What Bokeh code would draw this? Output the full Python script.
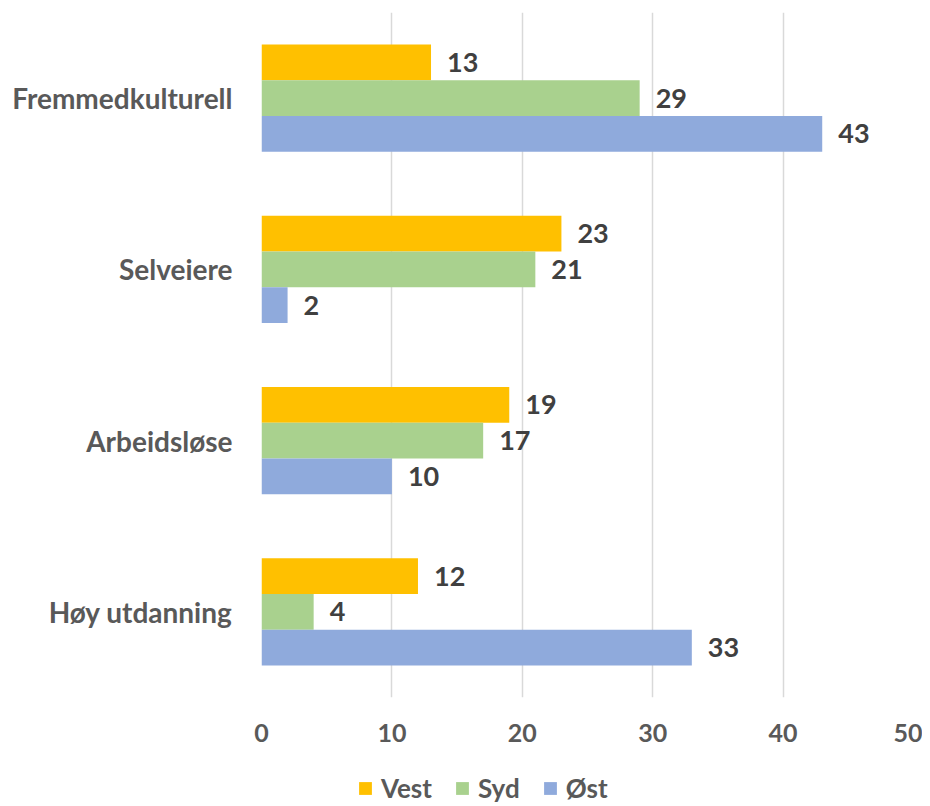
from bokeh.plotting import figure
from bokeh.layouts import column
from bokeh.models import ColumnDataSource, FactorRange, Range1d, LabelSet, Legend, LegendItem, FixedTicker
from bokeh.transform import dodge
from bokeh.core.properties import value
from bokeh.embed import file_html
from bokeh.resources import INLINE

# Data (bottom-to-top order for the categorical axis)
categories = ["Høy utdanning", "Arbeidsløse", "Selveiere", "Fremmedkulturell"]
vest = [12, 19, 23, 13]
syd = [4, 17, 21, 29]
ost = [33, 10, 2, 43]
series_names = ["Vest", "Syd", "Øst"]
colors = ["#FFC000", "#A9D18E", "#8FAADC"]
x_ticks = [0, 10, 20, 30, 40, 50]

FONT = "Lato"
bar_h = 0.2085

src = ColumnDataSource(data=dict(
    cat=categories,
    vest=vest, syd=syd, ost=ost,
    vest_lbl=[str(v) for v in vest],
    syd_lbl=[str(v) for v in syd],
    ost_lbl=[str(v) for v in ost],
))

p = figure(
    width=922, height=760,
    y_range=FactorRange(*categories, range_padding=0),
    x_range=Range1d(0, 50),
    output_backend="svg", toolbar_location=None,
    min_border_left=261, min_border_right=9, min_border_top=12, min_border_bottom=63,
)

fields = ["vest", "syd", "ost"]
offsets = [bar_h, 0.0, -bar_h]
for f, off, col in zip(fields, offsets, colors):
    p.hbar(y=dodge("cat", off, range=p.y_range), right=f, left=0, height=bar_h,
           source=src, fill_color=col, line_color=None)
    lbl = LabelSet(x=f, y=dodge("cat", off, range=p.y_range), text=f + "_lbl", source=src,
                   x_offset=16, text_baseline="middle", text_align="left",
                   text_font=value(FONT), text_font_style="bold", text_font_size="27px",
                   text_color="#404040")
    p.add_layout(lbl)

# Axes
p.xaxis.ticker = FixedTicker(ticks=x_ticks)
p.xaxis.axis_line_color = None
p.xaxis.major_tick_line_color = None
p.xaxis.minor_tick_line_color = None
p.xaxis.major_label_standoff = 20
p.xaxis.major_label_text_font = FONT
p.xaxis.major_label_text_font_style = "bold"
p.xaxis.major_label_text_font_size = "25px"
p.xaxis.major_label_text_color = "#595959"

p.yaxis.axis_line_color = None
p.yaxis.major_tick_line_color = None
p.yaxis.minor_tick_line_color = None
p.yaxis.major_label_standoff = 23
p.yaxis.major_label_text_font = FONT
p.yaxis.major_label_text_font_style = "bold"
p.yaxis.major_label_text_font_size = "28px"
p.yaxis.major_label_text_color = "#595959"

p.ygrid.grid_line_color = None
p.xgrid.grid_line_color = "#D9D9D9"
p.xgrid.grid_line_width = 1.5
p.outline_line_color = None

# Legend strip below the chart (its frame is aligned with the chart's frame)
pl = figure(
    width=922, height=44,
    y_range=p.y_range, x_range=p.x_range,
    output_backend="svg", toolbar_location=None,
    min_border_left=0, min_border_right=0, min_border_top=0, min_border_bottom=0,
)
pl.axis.visible = False
pl.grid.visible = False
pl.outline_line_color = None
leg_renderers = []
for f, off, col in zip(fields, offsets, colors):
    r = pl.hbar(y=dodge("cat", off, range=pl.y_range), right=f, left=0, height=bar_h,
                source=src, fill_color=col, line_color=None, visible=False)
    leg_renderers.append(r)

legend = Legend(
    items=[LegendItem(label=n, renderers=[r]) for n, r in zip(series_names, leg_renderers)],
    orientation="horizontal", location=(96, 0),
    glyph_width=16, glyph_height=16, label_standoff=8, spacing=22,
    padding=0, margin=0, border_line_color=None, background_fill_alpha=0,
    inactive_fill_alpha=0,
    label_text_font=FONT, label_text_font_style="bold", label_text_font_size="26px",
    label_text_color="#595959",
)
pl.add_layout(legend, "center")

layout = column(p, pl, spacing=0)
open("out.html", "w").write(file_html(layout, INLINE))
